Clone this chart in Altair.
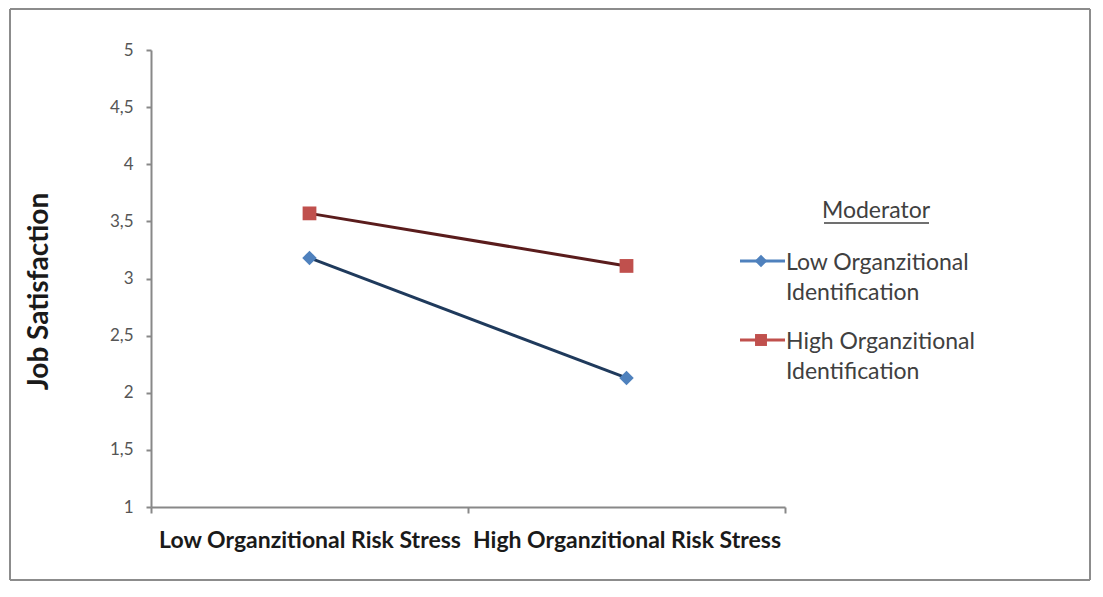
import altair as alt
import pandas as pd

categories = ["Low Organzitional Risk Stress", "High Organzitional Risk Stress"]
series = ["Low Organzitional Identification", "High Organzitional Identification"]
low_ident = [3.18, 2.13]
high_ident = [3.57, 3.11]
legend_title = "Moderator"

rows = []
for cat, v in zip(categories, low_ident):
    rows.append({"stress": cat, "moderator": series[0], "value": v})
for cat, v in zip(categories, high_ident):
    rows.append({"stress": cat, "moderator": series[1], "value": v})
df = pd.DataFrame(rows)
one = pd.DataFrame({"k": [0]})

FONT = "Lato"
line_colors = ["#1F3A5C", "#5A1C1C"]
marker_colors = ["#4F81BD", "#C0504D"]
marker_shapes = ["diamond", "square"]
marker_sizes = [210, 190]

x_enc = alt.X("stress:N", sort=categories,
              scale=alt.Scale(paddingInner=0, paddingOuter=0),
              axis=alt.Axis(title=None, labelAngle=0, labelFont=FONT, labelFontSize=23,
                            labelFontWeight="bold", labelColor="#1a1a1a", labelPadding=16,
                            labelLimit=0,
                            tickBand="extent", ticks=True, tickSize=6, tickColor="#888888",
                            tickWidth=2, domainColor="#888888", domainWidth=2,
                            grid=False))
y_enc = alt.Y("value:Q", scale=alt.Scale(domain=[1, 5], nice=False),
              axis=alt.Axis(title="Job Satisfaction", titleFont=FONT, titleFontSize=28,
                            titleFontWeight="bold", titleColor="#1a1a1a", titlePadding=56,
                            titleY=241,
                            values=[1, 1.5, 2, 2.5, 3, 3.5, 4, 4.5, 5],
                            labelExpr="replace(format(datum.value, '~g'), '.', ',')",
                            labelFont=FONT, labelFontSize=17, labelColor="#555555",
                            labelPadding=13, tickSize=5, tickColor="#888888", tickWidth=2,
                            domainColor="#888888", domainWidth=2,
                            grid=False))

lines = alt.Chart(df).mark_line(strokeWidth=3).encode(
    x=x_enc, y=y_enc,
    color=alt.Color("moderator:N", sort=series,
                    scale=alt.Scale(domain=series, range=line_colors), legend=None),
)

point_layers = []
for s, c, sh, sz in zip(series, marker_colors, marker_shapes, marker_sizes):
    point_layers.append(
        alt.Chart(df).transform_filter(alt.datum.moderator == s).mark_point(
            filled=True, opacity=1, shape=sh, size=sz, fill=c
        ).encode(x=x_enc, y=y_enc)
    )


def rule(x1, x2, y1, y2, color="#8c8c8c", w=2):
    return alt.Chart(one).mark_rule(color=color, strokeWidth=w).encode(
        x=alt.value(x1), x2=alt.value(x2), y=alt.value(y1), y2=alt.value(y2))


def text(t, x, y, align="left", size=23):
    return alt.Chart(one).mark_text(text=t, font=FONT, fontSize=size, color="#404040",
                                    align=align, baseline="alphabetic").encode(
        x=alt.value(x), y=alt.value(y))


# outer frame (relative to plot origin)
L, R, T, B = -141, 939, -41, 530
frame = [
    rule(L, R, T, T),
    rule(L, R, B, B),
    rule(L, L, T, B),
    rule(R, R, T, B),
]

# manual legend
legend_layers = [text(legend_title, 725, 168, align="center"),
                 rule(673, 778, 173, 173, color="#404040", w=1.5)]
entry_y = [211, 290]
for s, c, sh, sz, ey in zip(series, marker_colors, marker_shapes, marker_sizes, entry_y):
    first, second = s.rsplit(" ", 1)
    legend_layers.append(rule(589, 634, ey, ey, color=c, w=3))
    legend_layers.append(
        alt.Chart(one).mark_point(filled=True, opacity=1, shape=sh,
                                  size=sz * 0.75, fill=c).encode(
            x=alt.value(610), y=alt.value(ey)))
    legend_layers.append(text(first, 635, ey + 9))
    legend_layers.append(text(second, 635, ey + 39))

chart = alt.layer(*frame, lines, *point_layers, *legend_layers).properties(
    width=634, height=457,
    background="white",
    autosize=alt.AutoSizeParams(type="none"),
    padding={"left": 143, "top": 42, "right": 307, "bottom": 76},
).configure_view(stroke="transparent", strokeWidth=0).configure_axis(grid=False)

chart.save("out.html", embed_options={"renderer": "svg", "actions": False})
